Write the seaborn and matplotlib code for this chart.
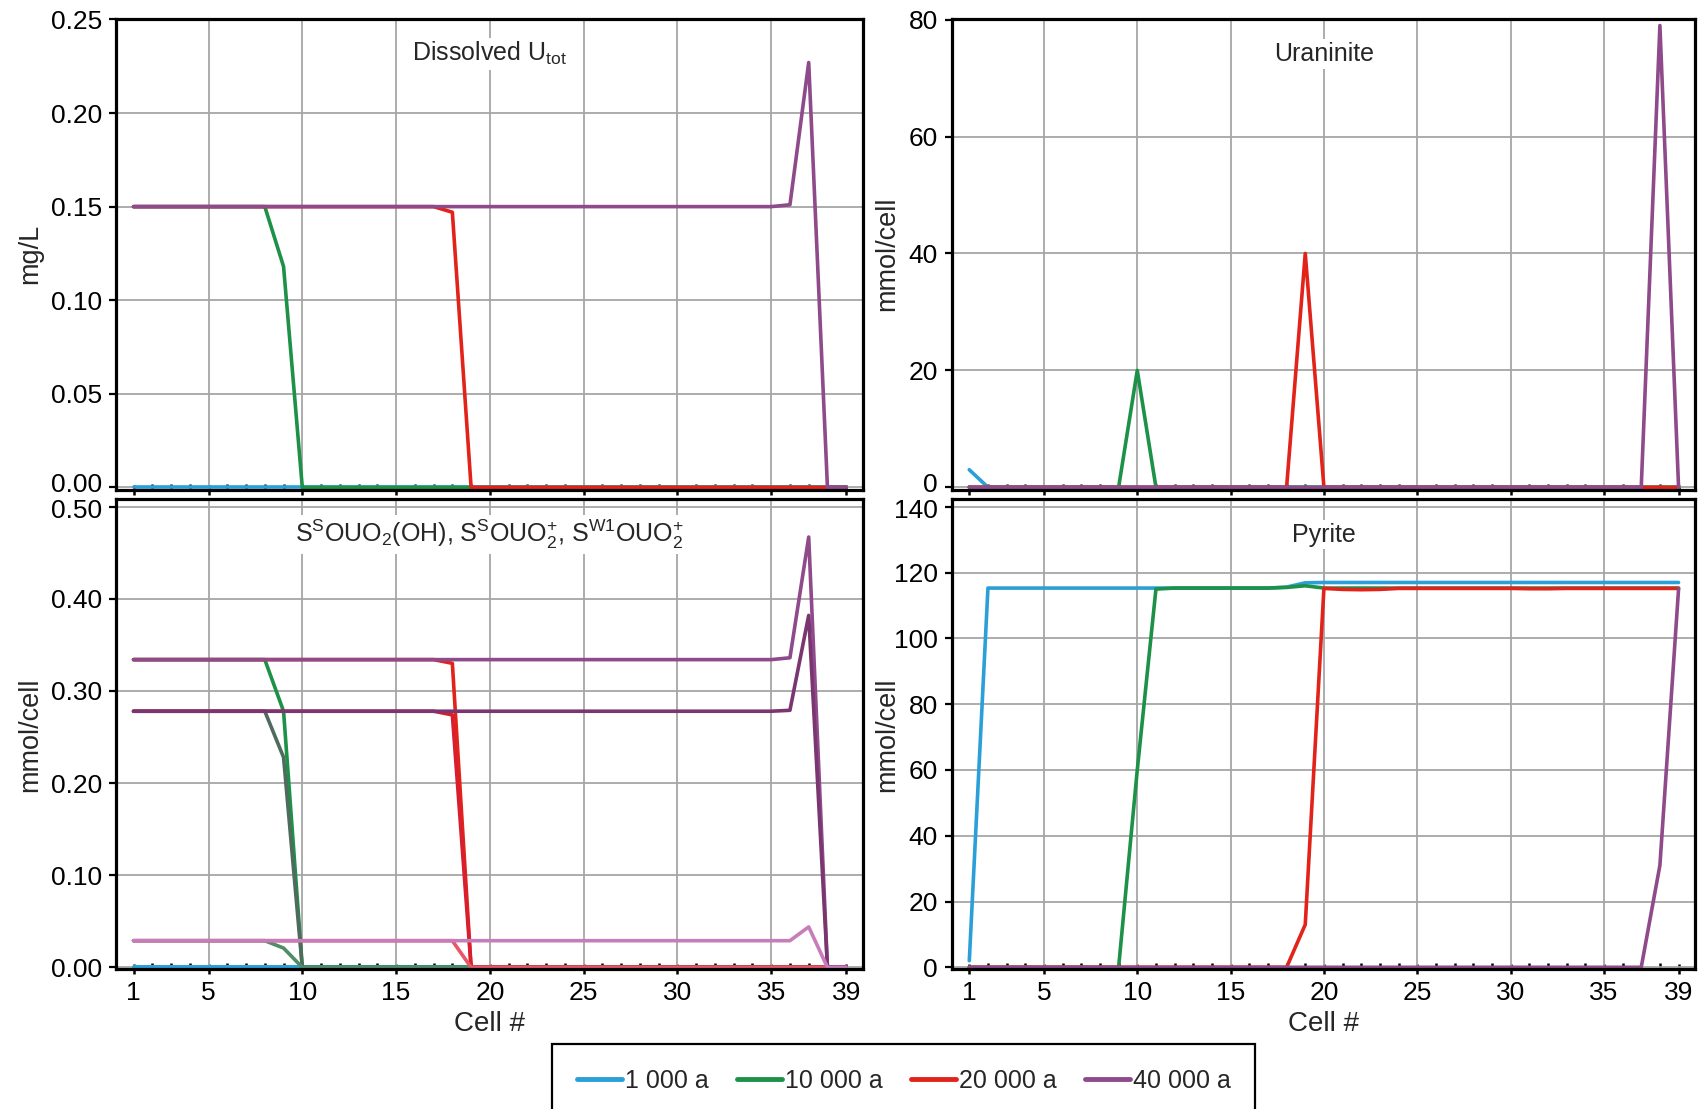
import numpy as np
import pandas as pd
import matplotlib
matplotlib.use("Agg")
import matplotlib.pyplot as plt
from matplotlib.lines import Line2D
from matplotlib.ticker import FormatStrFormatter, FixedLocator
from matplotlib.transforms import ScaledTranslation
import seaborn as sns

# ---------------- data ----------------
cells = list(range(1, 40))
times = ["1 000 a", "10 000 a", "20 000 a", "40 000 a"]
time_colors = ["#2A9FD8", "#1C9147", "#E2231A", "#8E4A8A"]

# Dissolved U_tot (mg/L)
u_1000 = [0, 0, 0, 0, 0, 0, 0, 0, 0, 0, 0, 0, 0, 0, 0, 0, 0, 0, 0, 0,
          0, 0, 0, 0, 0, 0, 0, 0, 0, 0, 0, 0, 0, 0, 0, 0, 0, 0, 0]
u_10000 = [0.15, 0.15, 0.15, 0.15, 0.15, 0.15, 0.15, 0.15, 0.118, 0, 0, 0, 0, 0, 0, 0, 0, 0, 0, 0,
           0, 0, 0, 0, 0, 0, 0, 0, 0, 0, 0, 0, 0, 0, 0, 0, 0, 0, 0]
u_20000 = [0.15, 0.15, 0.15, 0.15, 0.15, 0.15, 0.15, 0.15, 0.15, 0.15, 0.15, 0.15, 0.15, 0.15, 0.15,
           0.15, 0.15, 0.147, 0, 0, 0, 0, 0, 0, 0, 0, 0, 0, 0, 0, 0, 0, 0, 0, 0, 0, 0, 0, 0]
u_40000 = [0.15, 0.15, 0.15, 0.15, 0.15, 0.15, 0.15, 0.15, 0.15, 0.15, 0.15, 0.15, 0.15, 0.15, 0.15,
           0.15, 0.15, 0.15, 0.15, 0.15, 0.15, 0.15, 0.15, 0.15, 0.15, 0.15, 0.15, 0.15, 0.15, 0.15,
           0.15, 0.15, 0.15, 0.15, 0.15, 0.151, 0.227, 0, 0]

# Uraninite (mmol/cell)
ur_1000 = [3, 0, 0, 0, 0, 0, 0, 0, 0, 0, 0, 0, 0, 0, 0, 0, 0, 0, 0, 0,
           0, 0, 0, 0, 0, 0, 0, 0, 0, 0, 0, 0, 0, 0, 0, 0, 0, 0, 0]
ur_10000 = [0, 0, 0, 0, 0, 0, 0, 0, 0, 20, 0, 0, 0, 0, 0, 0, 0, 0, 0, 0,
            0, 0, 0, 0, 0, 0, 0, 0, 0, 0, 0, 0, 0, 0, 0, 0, 0, 0, 0]
ur_20000 = [0, 0, 0, 0, 0, 0, 0, 0, 0, 0, 0, 0, 0, 0, 0, 0, 0, 0, 40, 0,
            0, 0, 0, 0, 0, 0, 0, 0, 0, 0, 0, 0, 0, 0, 0, 0, 0, 0, 0]
ur_40000 = [0, 0, 0, 0, 0, 0, 0, 0, 0, 0, 0, 0, 0, 0, 0, 0, 0, 0, 0, 0,
            0, 0, 0, 0, 0, 0, 0, 0, 0, 0, 0, 0, 0, 0, 0, 0, 0, 79, 0]

# Pyrite (mmol/cell)
py_1000 = [2, 115.3, 115.3, 115.3, 115.3, 115.3, 115.3, 115.3, 115.3, 115.3, 115.3, 115.3, 115.3,
           115.3, 115.3, 115.3, 115.3, 115.6, 116.9, 117, 117, 117, 117, 117, 117, 117, 117, 117,
           117, 117, 117, 117, 117, 117, 117, 117, 117, 117, 117]
py_10000 = [0, 0, 0, 0, 0, 0, 0, 0, 0, 60, 115.0, 115.3, 115.3, 115.3, 115.3, 115.3, 115.3, 115.5,
            116.0, 115.3, 115.3, 115.3, 115.3, 115.3, 115.3, 115.3, 115.3, 115.3, 115.3, 115.3,
            115.3, 115.3, 115.3, 115.3, 115.3, 115.3, 115.3, 115.3, 115.3]
py_20000 = [0, 0, 0, 0, 0, 0, 0, 0, 0, 0, 0, 0, 0, 0, 0, 0, 0, 0, 13, 115.2, 114.9, 114.8, 114.9,
            115.2, 115.2, 115.2, 115.2, 115.2, 115.2, 115.2, 115.1, 115.1, 115.2, 115.2, 115.2,
            115.2, 115.2, 115.2, 115.2]
py_40000 = [0, 0, 0, 0, 0, 0, 0, 0, 0, 0, 0, 0, 0, 0, 0, 0, 0, 0, 0, 0,
            0, 0, 0, 0, 0, 0, 0, 0, 0, 0, 0, 0, 0, 0, 0, 0, 0, 31, 115]

# Surface complexes (mmol/cell): S1 = S^S OUO2(OH), S2 = S^S OUO2+, S3 = S^W1 OUO2+
s1_1000 = [0] * 39
s2_1000 = [0] * 39
s3_1000 = [0] * 39
s1_10000 = [0.334, 0.334, 0.334, 0.334, 0.334, 0.334, 0.334, 0.334, 0.278, 0] + [0] * 29
s2_10000 = [0.278, 0.278, 0.278, 0.278, 0.278, 0.278, 0.278, 0.278, 0.228, 0] + [0] * 29
s3_10000 = [0.029, 0.029, 0.029, 0.029, 0.029, 0.029, 0.029, 0.029, 0.021, 0] + [0] * 29
s1_20000 = [0.334] * 17 + [0.330, 0] + [0] * 20
s2_20000 = [0.278] * 17 + [0.274, 0] + [0] * 20
s3_20000 = [0.029] * 17 + [0.029, 0] + [0] * 20
s1_40000 = [0.334] * 35 + [0.336, 0.467, 0, 0]
s2_40000 = [0.278] * 35 + [0.279, 0.382, 0, 0]
s3_40000 = [0.029] * 35 + [0.029, 0.044, 0, 0]

species_colors = {
    "1 000 a": ["#2A9FD8", "#2A9FD8", "#2A9FD8"],
    "10 000 a": ["#1C9147", "#4E6B5E", "#4E8E66"],
    "20 000 a": ["#E2231A", "#D91F2E", "#E8566A"],
    "40 000 a": ["#8E4A8A", "#7A3670", "#C77DBA"],
}

x_ticks = [1, 5, 10, 15, 20, 25, 30, 35, 39]
x_grid = [5, 10, 15, 20, 25, 30, 35]

# ---------------- style ----------------
sns.set_theme(style="ticks")
plt.rcParams["font.family"] = ["Liberation Sans", "DejaVu Sans"]
plt.rcParams["mathtext.fontset"] = "custom"
plt.rcParams["mathtext.rm"] = "Liberation Sans"
plt.rcParams["mathtext.it"] = "Liberation Sans"

fig = plt.figure(figsize=(17.02, 11.09), dpi=100)

left_x, left_w = 0.0682, 0.4389
right_x, right_w = 0.5593, 0.4368
top_y, top_h = 0.5585, 0.4248
bot_y, bot_h = 0.1260, 0.4238

ax_u = fig.add_axes([left_x, top_y, left_w, top_h])
ax_ur = fig.add_axes([right_x, top_y, right_w, top_h])
ax_s = fig.add_axes([left_x, bot_y, left_w, bot_h])
ax_py = fig.add_axes([right_x, bot_y, right_w, bot_h])


def long_frame(series):
    rows = []
    for t, vals in zip(times, series):
        for c, v in zip(cells, vals):
            rows.append({"cell": c, "value": v, "time": t})
    return pd.DataFrame(rows)


def draw_time_panel(ax, series):
    df = long_frame(series)
    sns.lineplot(data=df, x="cell", y="value", hue="time", hue_order=times,
                 palette=dict(zip(times, time_colors)), linewidth=2.6,
                 legend=False, ax=ax, clip_on=False, zorder=3)


draw_time_panel(ax_u, [u_1000, u_10000, u_20000, u_40000])
draw_time_panel(ax_ur, [ur_1000, ur_10000, ur_20000, ur_40000])
draw_time_panel(ax_py, [py_1000, py_10000, py_20000, py_40000])

# surface complexes
s_series = {
    "1 000 a": [s1_1000, s2_1000, s3_1000],
    "10 000 a": [s1_10000, s2_10000, s3_10000],
    "20 000 a": [s1_20000, s2_20000, s3_20000],
    "40 000 a": [s1_40000, s2_40000, s3_40000],
}
rows = []
pal = {}
order = []
for t in times:
    for k, vals in enumerate(s_series[t]):
        key = f"{t} S{k+1}"
        order.append(key)
        pal[key] = species_colors[t][k]
        for c, v in zip(cells, vals):
            rows.append({"cell": c, "value": v, "series": key})
df_s = pd.DataFrame(rows)
sns.lineplot(data=df_s, x="cell", y="value", hue="series", hue_order=order,
             palette=pal, linewidth=2.6, legend=False, ax=ax_s, clip_on=False, zorder=3)

# ---------------- axes formatting ----------------
ylims = {ax_u: (-0.0012, 0.2505), ax_ur: (-0.4, 80.2), ax_s: (-0.002, 0.508), ax_py: (-0.6, 142.3)}
yticks = {ax_u: [0, 0.05, 0.10, 0.15, 0.20, 0.25],
          ax_ur: [0, 20, 40, 60, 80],
          ax_s: [0, 0.10, 0.20, 0.30, 0.40, 0.50],
          ax_py: [0, 20, 40, 60, 80, 100, 120, 140]}

for ax in [ax_u, ax_ur, ax_s, ax_py]:
    ax.set_xlim(0.07, 39.9)
    ax.set_ylim(*ylims[ax])
    ax.set_yticks(yticks[ax])
    ax.xaxis.set_major_locator(FixedLocator(x_ticks))
    ax.xaxis.set_minor_locator(FixedLocator(cells))
    for gx in x_grid:
        ax.axvline(gx, color="#A6A6A6", linewidth=1.3, zorder=1)
    ax.yaxis.grid(True, color="#A6A6A6", linewidth=1.3, zorder=1)
    ax.set_axisbelow(True)
    for sp in ax.spines.values():
        sp.set_visible(True)
        sp.set_linewidth(2.3)
        sp.set_color("black")
        sp.set_zorder(4)
    ax.tick_params(axis="y", which="major", direction="out", length=5, width=1.6,
                   labelsize=19, pad=5, colors="black", left=True, right=False)
    ax.tick_params(axis="x", which="major", direction="inout", length=7, width=1.8,
                   labelsize=19, pad=5, colors="black", bottom=True, top=False)
    ax.tick_params(axis="x", which="minor", direction="in", length=4, width=1.8,
                   colors="black", bottom=True, top=False)
    ax.set_xlabel("")
    ax.set_ylabel("")

for ax in [ax_u, ax_s]:
    ax.yaxis.set_major_formatter(FormatStrFormatter("%.2f"))
for ax in [ax_u, ax_ur]:
    ax.tick_params(axis="x", which="major", labelbottom=False)

lab_font = dict(family=["Liberation Sans", "DejaVu Sans"], fontsize=19.5)
ax_u.set_ylabel("mg/L", **lab_font)
ax_s.set_ylabel("mmol/cell", **lab_font)
ax_ur.set_ylabel("mmol/cell", **lab_font)
ax_py.set_ylabel("mmol/cell", **lab_font)
for ax in [ax_u, ax_s]:
    ax.yaxis.set_label_coords(-0.098, 0.5)
for ax in [ax_ur, ax_py]:
    ax.yaxis.set_label_coords(-0.069, 0.5)
for ax in [ax_s, ax_py]:
    ax.set_xlabel("Cell #", fontsize=20, labelpad=4)

# nudge the touching labels between the rows apart (as in the reference)
up = ScaledTranslation(0, 5 / 100, fig.dpi_scale_trans)
down = ScaledTranslation(0, -2 / 100, fig.dpi_scale_trans)
for ax in [ax_u, ax_ur]:
    t0 = ax.yaxis.get_major_ticks()[0]
    t0.label1.set_transform(t0.label1.get_transform() + up)
for ax in [ax_s, ax_py]:
    tl = ax.yaxis.get_major_ticks()[-1]
    tl.label1.set_transform(tl.label1.get_transform() + down)

title_kw = dict(ha="center", va="center", fontsize=18, zorder=5,
                bbox=dict(facecolor="white", edgecolor="none", pad=2))
ax_u.text(0.5, 0.925, r"Dissolved U$_{\mathregular{tot}}$", transform=ax_u.transAxes, **title_kw)
ax_ur.text(0.5, 0.925, "Uraninite", transform=ax_ur.transAxes, **title_kw)
ax_py.text(0.5, 0.925, "Pyrite", transform=ax_py.transAxes, **title_kw)
ax_s.text(0.5, 0.925,
          r"S$^{\mathregular{S}}$OUO$_{\mathregular{2}}$(OH), S$^{\mathregular{S}}$OUO$_{\mathregular{2}}^{\mathregular{+}}$, S$^{\mathregular{W1}}$OUO$_{\mathregular{2}}^{\mathregular{+}}$",
          transform=ax_s.transAxes, **title_kw)

handles = [Line2D([0], [0], color=c, linewidth=3.5) for c in time_colors]
leg = fig.legend(handles, times, loc="upper center", bbox_to_anchor=(0.531, 0.0586),
                 ncol=4, frameon=True, fancybox=False, fontsize=18,
                 handlelength=1.8, handletextpad=0.1, columnspacing=1.15,
                 borderpad=1.0, borderaxespad=0)
leg.get_frame().set_edgecolor("black")
leg.get_frame().set_linewidth(1.6)
leg.get_frame().set_facecolor("white")
leg.get_frame().set_alpha(1)

fig.savefig("out.png", dpi=100, facecolor="white")
